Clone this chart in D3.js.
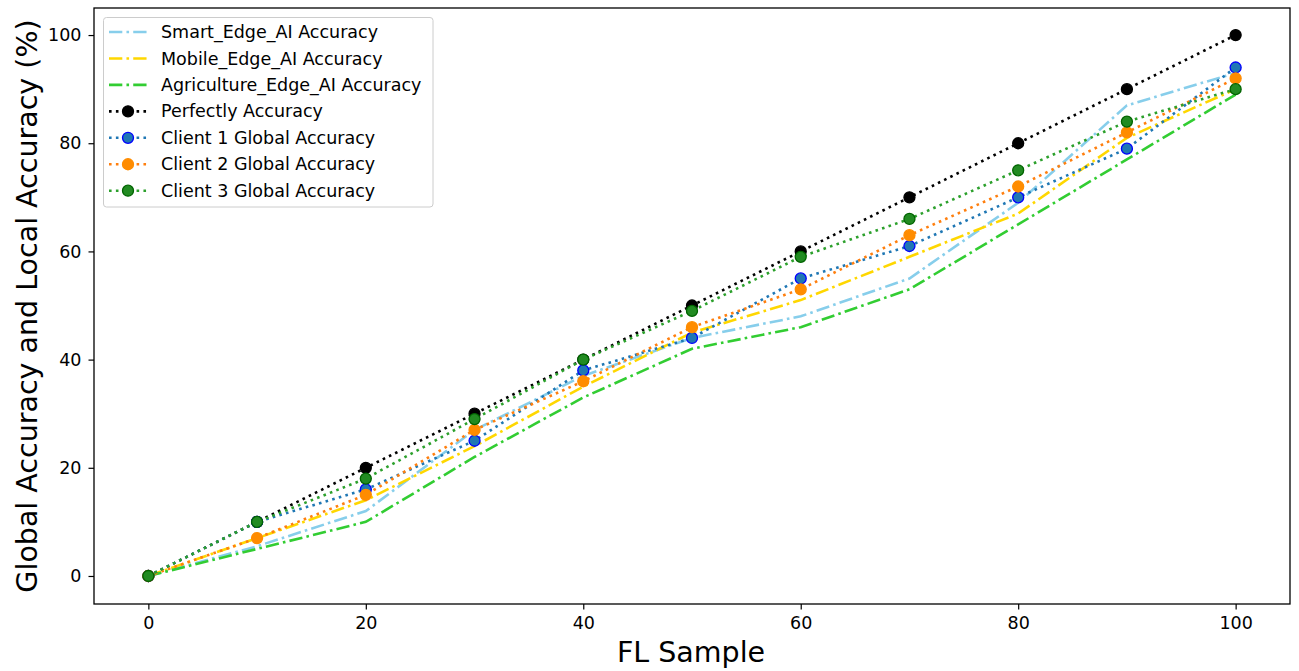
<!DOCTYPE html>
<html>
<head>
<meta charset="utf-8">
<script src="https://cdn.jsdelivr.net/npm/d3@7"></script>
<style>
  html, body { margin: 0; padding: 0; background: #fff; }
  svg { display: block; font-family: "DejaVu Sans", sans-serif; }
</style>
</head>
<body>
<svg id="chart" width="1299" height="671"></svg>
<script>
// ---- data ----
const samples = [0, 10, 20, 30, 40, 50, 60, 70, 80, 90, 100];
const smartEdge = [0, 5.5, 12, 27, 37, 44, 48, 55, 69, 87, 93];
const mobileEdge = [0, 7, 14, 24, 35, 45, 51, 59, 67, 81, 90];
const agricultureEdge = [0, 5, 10, 22, 33, 42, 46, 53, 65, 77, 89];
const perfect = [0, 10, 20, 30, 40, 50, 60, 70, 80, 90, 100];
const client1 = [0, 10, 16, 25, 38, 44, 55, 61, 70, 79, 94];
const client2 = [0, 7, 15, 27, 36, 46, 53, 63, 72, 82, 92];
const client3 = [0, 10, 18, 29, 40, 49, 59, 66, 75, 84, 90];
const xTicks = [0, 20, 40, 60, 80, 100];
const yTicks = [0, 20, 40, 60, 80, 100];
const seriesNames = ["Smart_Edge_AI Accuracy", "Mobile_Edge_AI Accuracy", "Agriculture_Edge_AI Accuracy",
  "Perfectly Accuracy", "Client 1 Global Accuracy", "Client 2 Global Accuracy", "Client 3 Global Accuracy"];

const series = [
  { name: seriesNames[0], values: smartEdge, color: "#87CEEB", style: "dashdot", marker: null },
  { name: seriesNames[1], values: mobileEdge, color: "#FFD700", style: "dashdot", marker: null },
  { name: seriesNames[2], values: agricultureEdge, color: "#32CD32", style: "dashdot", marker: null },
  { name: seriesNames[3], values: perfect, color: "#000000", style: "dot", marker: { fill: "#000000", stroke: "#000000" } },
  { name: seriesNames[4], values: client1, color: "#1f77b4", style: "dot", marker: { fill: "#1f77b4", stroke: "#0000ff" } },
  { name: seriesNames[5], values: client2, color: "#ff7f0e", style: "dot", marker: { fill: "#ff8c00", stroke: "#ff8c00" } },
  { name: seriesNames[6], values: client3, color: "#2ca02c", style: "dot", marker: { fill: "#228B22", stroke: "#006400" } }
];

// ---- layout ----
const svg = d3.select("#chart");
const L = 94, R = 1290, T = 8, B = 604;
const x = d3.scaleLinear().domain([-5, 105]).range([L, R]);
const y = d3.scaleLinear().domain([-5.18, 105]).range([B, T]);
const lw = 2.6;
const tickFont = 17.5;
const labelFont = 28.5;
const dash = { dashdot: `${6.4*lw*0.8} ${1.6*lw} ${1*lw} ${1.6*lw}`, dot: `${1*lw} ${1.65*lw}` };

// axes
const xAxis = svg.append("g").attr("transform", `translate(0,${B})`)
  .call(d3.axisBottom(x).tickValues(xTicks).tickSize(5.5).tickPadding(7).tickFormat(d3.format("d")));
const yAxis = svg.append("g").attr("transform", `translate(${L},0)`)
  .call(d3.axisLeft(y).tickValues(yTicks).tickSize(5.5).tickPadding(7).tickFormat(d3.format("d")));
[xAxis, yAxis].forEach(g => {
  g.select(".domain").remove();
  g.selectAll("text").attr("font-size", tickFont).attr("fill", "#000").attr("font-family", "DejaVu Sans, sans-serif");
  g.selectAll("line").attr("stroke", "#000").attr("stroke-width", 1.2);
});

// lines
const line = d3.line().x((d, i) => x(samples[i])).y(d => y(d));
const plot = svg.append("g");
series.forEach(s => {
  plot.append("path").datum(s.values)
    .attr("d", line).attr("fill", "none")
    .attr("stroke", s.color).attr("stroke-width", lw)
    .attr("stroke-dasharray", dash[s.style]);
  if (s.marker) {
    plot.selectAll(null).data(s.values).enter().append("circle")
      .attr("cx", (d, i) => x(samples[i])).attr("cy", d => y(d)).attr("r", 5.5)
      .attr("fill", s.marker.fill).attr("stroke", s.marker.stroke).attr("stroke-width", 1.3);
  }
});

// frame
svg.append("rect").attr("x", L).attr("y", T).attr("width", R - L).attr("height", B - T)
  .attr("fill", "none").attr("stroke", "#000").attr("stroke-width", 1.3);

// legend
const lg = svg.append("g");
lg.append("rect").attr("x", 103.5).attr("y", 17.5).attr("width", 329.5).attr("height", 189.5).attr("rx", 3)
  .attr("fill", "#fff").attr("fill-opacity", 0.8).attr("stroke", "#cccccc").attr("stroke-width", 1);
series.forEach((s, i) => {
  const yy = 32 + i * 26.45;
  lg.append("line").attr("x1", 109).attr("x2", 147).attr("y1", yy).attr("y2", yy)
    .attr("stroke", s.color).attr("stroke-width", lw).attr("stroke-dasharray", dash[s.style]);
  if (s.marker) {
    lg.append("circle").attr("cx", 128).attr("cy", yy).attr("r", 5.5)
      .attr("fill", s.marker.fill).attr("stroke", s.marker.stroke).attr("stroke-width", 1.3);
  }
  lg.append("text").attr("x", 161).attr("y", yy).attr("dy", "0.35em")
    .attr("font-size", tickFont).attr("fill", "#000").text(s.name);
});

// axis labels
svg.append("text").attr("x", (L + R) / 2 - 1).attr("y", 662).attr("text-anchor", "middle")
  .attr("font-size", labelFont).attr("fill", "#000").text("FL Sample");
svg.append("text").attr("transform", `translate(37,${(T + B) / 2}) rotate(-90)`)
  .attr("text-anchor", "middle").attr("font-size", labelFont).attr("fill", "#000")
  .text("Global Accuracy and Local Accuracy (%)");
</script>
</body>
</html>
